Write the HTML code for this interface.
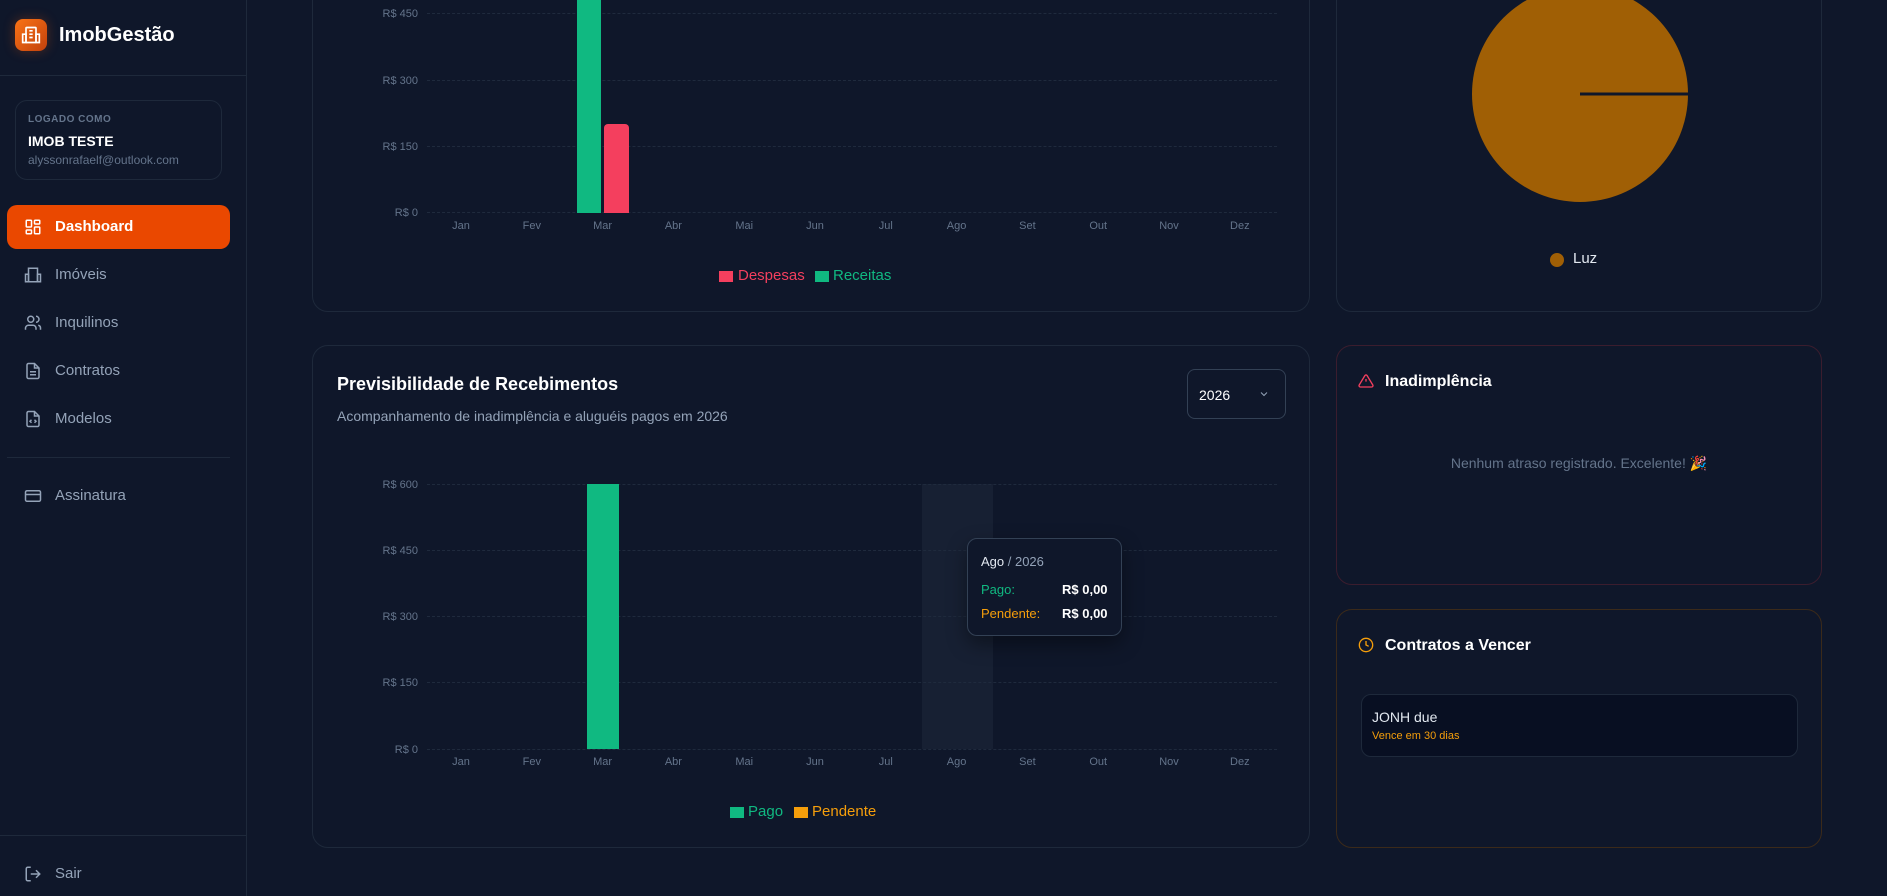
<!DOCTYPE html>
<html><head><meta charset="utf-8"><style>
*{margin:0;padding:0;box-sizing:border-box}
body{width:1887px;height:896px;background:#0f172a;font-family:"Liberation Sans",sans-serif;position:relative;overflow:hidden;color:#f1f5f9}
.abs{position:absolute}
.card{position:absolute;border:1px solid #1e293b;border-radius:16px;background:#0f172a}
.nav{position:absolute;left:55px;font-size:15px;color:#94a3b8}
.ylab{position:absolute;font-size:11px;color:#64748b;text-align:right;width:80px}
.mlab{position:absolute;font-size:11px;color:#64748b;width:60px;text-align:center}
.grid{position:absolute;left:427px;width:850px;border-top:1px dashed #1f2a3d}
</style></head><body>
<!-- sidebar -->
<div class="abs" style="left:246px;top:0;width:1px;height:896px;background:#1e293b"></div>
<div class="abs" style="left:15px;top:19px;width:32px;height:32px;border-radius:8px;background:linear-gradient(135deg,#f97316,#c2410c);box-shadow:0 0 12px rgba(234,88,12,.3)"></div>
<svg class="abs" style="left:21px;top:25px" width="20" height="20" viewBox="0 0 24 24" fill="none" stroke="#fff" stroke-width="2"><rect x="6" y="3" width="12" height="18" rx="1"/><path d="M2 11h4v10H2zM18 11h4v10h-4zM10 7h4M10 11h4M10 15h4"/></svg>
<div class="abs" style="left:59px;top:24px;font-size:20px;font-weight:bold;color:#fff">ImobGestão</div>
<div class="abs" style="left:0;top:75px;width:246px;height:1px;background:#1e293b"></div>
<div class="abs" style="left:15px;top:100px;width:207px;height:80px;border:1px solid #1e293b;border-radius:12px"></div>
<div class="abs" style="left:28px;top:114px;font-size:10px;color:#64748b;letter-spacing:.5px;font-weight:bold">LOGADO COMO</div>
<div class="abs" style="left:28px;top:133px;font-size:14px;font-weight:bold;color:#fff">IMOB TESTE</div>
<div class="abs" style="left:28px;top:153px;font-size:12px;color:#64748b">alyssonrafaelf@outlook.com</div>
<div class="abs" style="left:7px;top:205px;width:223px;height:44px;border-radius:10px;background:#ea4800"></div>
<svg class="abs" style="left:24px;top:218px" width="18" height="18" viewBox="0 0 24 24" fill="none" stroke="#fff" stroke-width="2"><rect x="3" y="3" width="7" height="9" rx="1"/><rect x="14" y="3" width="7" height="5" rx="1"/><rect x="14" y="12" width="7" height="9" rx="1"/><rect x="3" y="16" width="7" height="5" rx="1"/></svg>
<div class="nav" style="top:218px;color:#fff;font-weight:bold">Dashboard</div>
<svg class="abs" style="left:24px;top:266px" width="18" height="18" viewBox="0 0 24 24" fill="none" stroke="#94a3b8" stroke-width="2"><rect x="6" y="3" width="12" height="18"/><path d="M2 11h4v10H2zM18 11h4v10h-4z"/></svg>
<div class="nav" style="top:266px">Imóveis</div>
<svg class="abs" style="left:24px;top:314px" width="18" height="18" viewBox="0 0 24 24" fill="none" stroke="#94a3b8" stroke-width="2"><circle cx="9" cy="7" r="4"/><path d="M2 21v-2a4 4 0 014-4h6a4 4 0 014 4v2M16 3a4 4 0 010 8M22 21v-2a4 4 0 00-3-4"/></svg>
<div class="nav" style="top:314px">Inquilinos</div>
<svg class="abs" style="left:24px;top:362px" width="18" height="18" viewBox="0 0 24 24" fill="none" stroke="#94a3b8" stroke-width="2"><path d="M14 2H6a2 2 0 00-2 2v16a2 2 0 002 2h12a2 2 0 002-2V8z"/><path d="M14 2v6h6M8 13h8M8 17h8"/></svg>
<div class="nav" style="top:362px">Contratos</div>
<svg class="abs" style="left:24px;top:410px" width="18" height="18" viewBox="0 0 24 24" fill="none" stroke="#94a3b8" stroke-width="2"><path d="M14 2H6a2 2 0 00-2 2v16a2 2 0 002 2h12a2 2 0 002-2V8z"/><path d="M14 2v6h6M10 13l-2 2 2 2M14 13l2 2-2 2"/></svg>
<div class="nav" style="top:410px">Modelos</div>
<div class="abs" style="left:7px;top:457px;width:223px;height:1px;background:#1e293b"></div>
<svg class="abs" style="left:24px;top:487px" width="18" height="18" viewBox="0 0 24 24" fill="none" stroke="#94a3b8" stroke-width="2"><rect x="2" y="5" width="20" height="14" rx="2"/><path d="M2 10h20"/></svg>
<div class="nav" style="top:487px">Assinatura</div>
<div class="abs" style="left:0;top:835px;width:246px;height:1px;background:#1e293b"></div>
<svg class="abs" style="left:24px;top:865px" width="18" height="18" viewBox="0 0 24 24" fill="none" stroke="#94a3b8" stroke-width="2"><path d="M9 21H5a2 2 0 01-2-2V5a2 2 0 012-2h4M16 17l5-5-5-5M21 12H9"/></svg>
<div class="nav" style="top:865px">Sair</div>

<!-- top card -->
<div class="card" style="left:312px;top:-20px;width:998px;height:332px"></div>
<div class="grid" style="top:13px"></div><div class="grid" style="top:80px"></div><div class="grid" style="top:146px"></div><div class="grid" style="top:212px"></div>
<div class="ylab" style="left:338px;top:8px">R$ 450</div>
<div class="ylab" style="left:338px;top:75px">R$ 300</div>
<div class="ylab" style="left:338px;top:141px">R$ 150</div>
<div class="ylab" style="left:338px;top:207px">R$ 0</div>
<div class="abs" style="left:577px;top:0;width:24px;height:213px;background:#10b981"></div>
<div class="abs" style="left:604px;top:124px;width:25px;height:89px;background:#f43f5e;border-radius:4px 4px 0 0"></div>
<div id="m1"></div>
<div class="abs" style="left:719px;top:271px;width:14px;height:11px;background:#f43f5e"></div>
<div class="abs" style="left:738px;top:267px;font-size:15px;color:#f43f5e">Despesas</div>
<div class="abs" style="left:815px;top:271px;width:14px;height:11px;background:#10b981"></div>
<div class="abs" style="left:833px;top:267px;font-size:15px;color:#10b981">Receitas</div>

<!-- pie card -->
<div class="card" style="left:1336px;top:-20px;width:486px;height:332px"></div>
<svg class="abs" style="left:1470px;top:-16px" width="220" height="220"><circle cx="110" cy="110" r="108" fill="#a05f05"/><line x1="110" y1="110" x2="218" y2="110" stroke="#0f172a" stroke-width="3"/></svg>
<div class="abs" style="left:1550px;top:253px;width:14px;height:14px;border-radius:50%;background:#a05f05"></div>
<div class="abs" style="left:1573px;top:250px;font-size:15px;color:#e2e8f0">Luz</div>

<!-- bottom card -->
<div class="card" style="left:312px;top:345px;width:998px;height:503px"></div>
<div class="abs" style="left:337px;top:374px;font-size:18px;font-weight:bold;color:#fff">Previsibilidade de Recebimentos</div>
<div class="abs" style="left:337px;top:408px;font-size:14px;color:#94a3b8">Acompanhamento de inadimplência e aluguéis pagos em 2026</div>
<div class="abs" style="left:1187px;top:369px;width:99px;height:50px;border:1px solid #334155;border-radius:8px"></div>
<div class="abs" style="left:1199px;top:387px;font-size:14px;color:#fff">2026</div>
<svg class="abs" style="left:1258px;top:388px" width="12" height="12" viewBox="0 0 24 24" fill="none" stroke="#94a3b8" stroke-width="2"><path d="M6 9l6 6 6-6"/></svg>
<div class="abs" style="left:922px;top:484px;width:71px;height:265px;background:#172033"></div>
<div class="grid" style="top:484px"></div><div class="grid" style="top:550px"></div><div class="grid" style="top:616px"></div><div class="grid" style="top:682px"></div><div class="grid" style="top:749px"></div>
<div class="ylab" style="left:338px;top:479px">R$ 600</div>
<div class="ylab" style="left:338px;top:545px">R$ 450</div>
<div class="ylab" style="left:338px;top:611px">R$ 300</div>
<div class="ylab" style="left:338px;top:677px">R$ 150</div>
<div class="ylab" style="left:338px;top:744px">R$ 0</div>
<div class="abs" style="left:587px;top:484px;width:32px;height:265px;background:#10b981"></div>
<div id="m2"></div>
<div class="abs" style="left:967px;top:538px;width:155px;height:98px;border:1px solid #334155;border-radius:10px;background:#0f172a;box-shadow:0 8px 20px rgba(0,0,0,.4)"></div>
<div class="abs" style="left:981px;top:554px;font-size:13px;color:#e2e8f0">Ago <span style="color:#94a3b8">/ 2026</span></div>
<div class="abs" style="left:981px;top:582px;font-size:13px;color:#10b981">Pago:</div>
<div class="abs" style="left:1062px;top:582px;font-size:13px;color:#fff;font-weight:bold">R$ 0,00</div>
<div class="abs" style="left:981px;top:606px;font-size:13px;color:#f59e0b">Pendente:</div>
<div class="abs" style="left:1062px;top:606px;font-size:13px;color:#fff;font-weight:bold">R$ 0,00</div>
<div class="abs" style="left:730px;top:807px;width:14px;height:11px;background:#10b981"></div>
<div class="abs" style="left:748px;top:803px;font-size:15px;color:#10b981">Pago</div>
<div class="abs" style="left:794px;top:807px;width:14px;height:11px;background:#f59e0b"></div>
<div class="abs" style="left:812px;top:803px;font-size:15px;color:#f59e0b">Pendente</div>

<!-- Inadimplencia -->
<div class="card" style="left:1336px;top:345px;width:486px;height:240px;border-color:#3b1d2e"></div>
<svg class="abs" style="left:1358px;top:373px" width="16" height="16" viewBox="0 0 24 24" fill="none" stroke="#f43f5e" stroke-width="2"><path d="M10.3 3.9L1.8 18a2 2 0 001.7 3h17a2 2 0 001.7-3L13.7 3.9a2 2 0 00-3.4 0zM12 9v4M12 17h.01"/></svg>
<div class="abs" style="left:1385px;top:373px;font-size:16px;font-weight:bold;color:#fff">Inadimplência</div>
<div class="abs" style="left:1336px;top:455px;width:486px;text-align:center;font-size:14px;color:#64748b">Nenhum atraso registrado. Excelente! 🎉</div>

<!-- Contratos -->
<div class="card" style="left:1336px;top:609px;width:486px;height:239px;border-color:#3b2a1a"></div>
<svg class="abs" style="left:1358px;top:637px" width="16" height="16" viewBox="0 0 24 24" fill="none" stroke="#f59e0b" stroke-width="2"><circle cx="12" cy="12" r="10"/><path d="M12 6v6l4 2"/></svg>
<div class="abs" style="left:1385px;top:637px;font-size:16px;font-weight:bold;color:#fff">Contratos a Vencer</div>
<div class="abs" style="left:1361px;top:694px;width:437px;height:63px;border:1px solid #1e293b;border-radius:10px;background:#080f22"></div>
<div class="abs" style="left:1372px;top:709px;font-size:14px;color:#e2e8f0">JONH due</div>
<div class="abs" style="left:1372px;top:730px;font-size:11px;color:#f59e0b">Vence em 30 dias</div>
<script>
var m=["Jan","Fev","Mar","Abr","Mai","Jun","Jul","Ago","Set","Out","Nov","Dez"];
[["m1",220],["m2",756]].forEach(function(p){var h="";m.forEach(function(t,i){h+='<div class="mlab" style="left:'+(431+i*70.8)+'px;top:'+p[1]+'px">'+t+'</div>'});document.getElementById(p[0]).innerHTML=h;});
</script>
</body></html>
